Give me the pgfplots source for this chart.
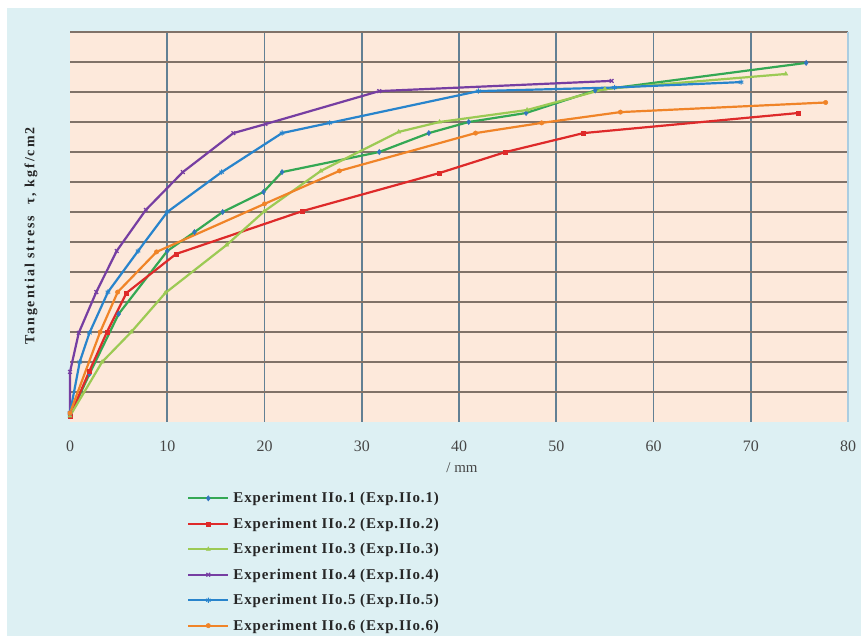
\documentclass[border=0pt]{standalone}
\usepackage{pgfplots}
\pgfplotsset{compat=1.18}
\usepackage{fontspec}
\setmainfont{Liberation Serif}
\definecolor{bgblue}{RGB}{221,240,243}
\definecolor{peach}{RGB}{253,233,219}
\definecolor{hgrid}{RGB}{128,114,104}
\definecolor{vgrid}{RGB}{98,128,148}
\definecolor{cgreen}{RGB}{52,168,84}
\definecolor{cgreenm}{RGB}{50,118,190}
\definecolor{cred}{RGB}{222,42,42}
\definecolor{cyel}{RGB}{156,202,84}
\definecolor{cpurp}{RGB}{118,62,162}
\definecolor{cblue}{RGB}{40,132,204}
\definecolor{corange}{RGB}{240,132,40}
\definecolor{ticktext}{RGB}{70,70,70}
\begin{document}
\begin{tikzpicture}
\fill[white] (0,0) rectangle (861bp,636bp);
\fill[bgblue] (7bp,0) rectangle (861bp,628bp);
\begin{axis}[
  at={(70bp,214bp)}, anchor=south west,
  scale only axis, width=778bp, height=390bp,
  xmin=0, xmax=80, ymin=0, ymax=13,
  axis background/.style={fill=peach},
  axis line style={draw=none},
  xtick={0,10,...,80}, ytick={1,2,...,13}, yticklabels={},
  minor xtick={10,20,...,70},
  minor x grid style={vgrid, line width=1.6bp},
  major y grid style={hgrid, line width=1.8bp},
  xminorgrids, ymajorgrids,
  major tick length=0pt, minor tick length=0pt,
  tick style={draw=none},
  /pgf/number format/assume math mode=true,
  xticklabel style={font=\fontsize{16}{18}\selectfont, text=ticktext, yshift=-15bp},
  clip=false,
  every axis plot/.append style={line width=2.2bp},
  legend image code/.code={\draw[#1,mark repeat=2,mark phase=2] plot coordinates {(0bp,0bp) (20bp,0bp) (40bp,0bp)};},
  legend style={at={(0.1504,-0.180)}, anchor=north west, draw=none, fill=none, inner sep=0pt,
    font=\fontsize{15}{17}\selectfont\bfseries\addfontfeatures{LetterSpace=6},
    text=black!85,
    nodes={inner sep=0pt, anchor=west}, row sep=13.6bp, /tikz/column sep=4bp},
  legend cell align=left,
]
\addplot[cgreen, mark=diamond*, mark size=2.6bp, mark options={fill=cgreenm, draw=cgreenm, line width=0.5bp}] coordinates {
(0,0.2) (2,1.6) (5,3.6) (10,5.7) (12.8,6.33) (15.7,7.0) (19.9,7.67) (21.8,8.33) (31.8,9.0) (36.9,9.63) (41,10.0) (46.9,10.3) (54,11.05) (75.7,11.97)};
\addlegendentry{Experiment IIo.1 (Exp.IIo.1)}
\addplot[cred, mark=square*, mark size=2bp, mark options={fill=cred, line width=0.5bp}] coordinates {
(0,0.2) (2,1.7) (3.8,3.0) (5.8,4.3) (10.9,5.6) (23.9,7.03) (38,8.3) (44.8,9.0) (52.8,9.63) (74.9,10.3)};
\addlegendentry{Experiment IIo.2 (Exp.IIo.2)}
\addplot[cyel, mark=triangle*, mark size=2.4bp, mark options={fill=cyel, line width=0.5bp}] coordinates {
(0,0.2) (3.3,2.0) (6.3,3.0) (9.8,4.3) (16.1,5.9) (20,7.03) (25.8,8.37) (33.8,9.67) (38,10.0) (47,10.4) (55,11.1) (73.6,11.6)};
\addlegendentry{Experiment IIo.3 (Exp.IIo.3)}
\addplot[cpurp, mark=x, mark size=2.6bp, mark options={line width=1.2bp}] coordinates {
(0,0.3) (0,1.67) (0.9,2.97) (2.7,4.33) (4.8,5.7) (7.8,7.07) (11.6,8.33) (16.8,9.63) (20.1,9.93) (31.8,11.03) (55.7,11.37)};
\addlegendentry{Experiment IIo.4 (Exp.IIo.4)}
\addplot[cblue, mark=asterisk, mark size=2.6bp, mark options={line width=1bp}] coordinates {
(0,0.3) (1,2.0) (2,2.97) (3.9,4.33) (7,5.7) (10,7.0) (15.6,8.33) (21.8,9.63) (26.7,9.97) (42,11.03) (56,11.15) (69,11.33)};
\addlegendentry{Experiment IIo.5 (Exp.IIo.5)}
\addplot[corange, mark=*, mark size=2.2bp, mark options={fill=corange, line width=0.5bp}] coordinates {
(0,0.3) (3.1,3.0) (4.9,4.33) (8.9,5.67) (20,7.27) (27.7,8.37) (41.7,9.63) (48.5,9.97) (56.6,10.33) (77.7,10.65)};
\addlegendentry{Experiment IIo.6 (Exp.IIo.6)}
\end{axis}
\draw[color={rgb,255:red,170;green,205;blue,225}, line width=1.5bp] (848bp,214bp) -- (848bp,604bp);
\node[rotate=90, font=\fontsize{14}{16}\selectfont\bfseries\addfontfeatures{LetterSpace=14}, text=black!85] at (31bp,400bp) {Tangential stress \ τ\,,\ kgf/cm2};
\node[font=\fontsize{15}{17}\selectfont, text=ticktext] at (462bp,168bp) {/ mm};
\end{tikzpicture}
\end{document}
